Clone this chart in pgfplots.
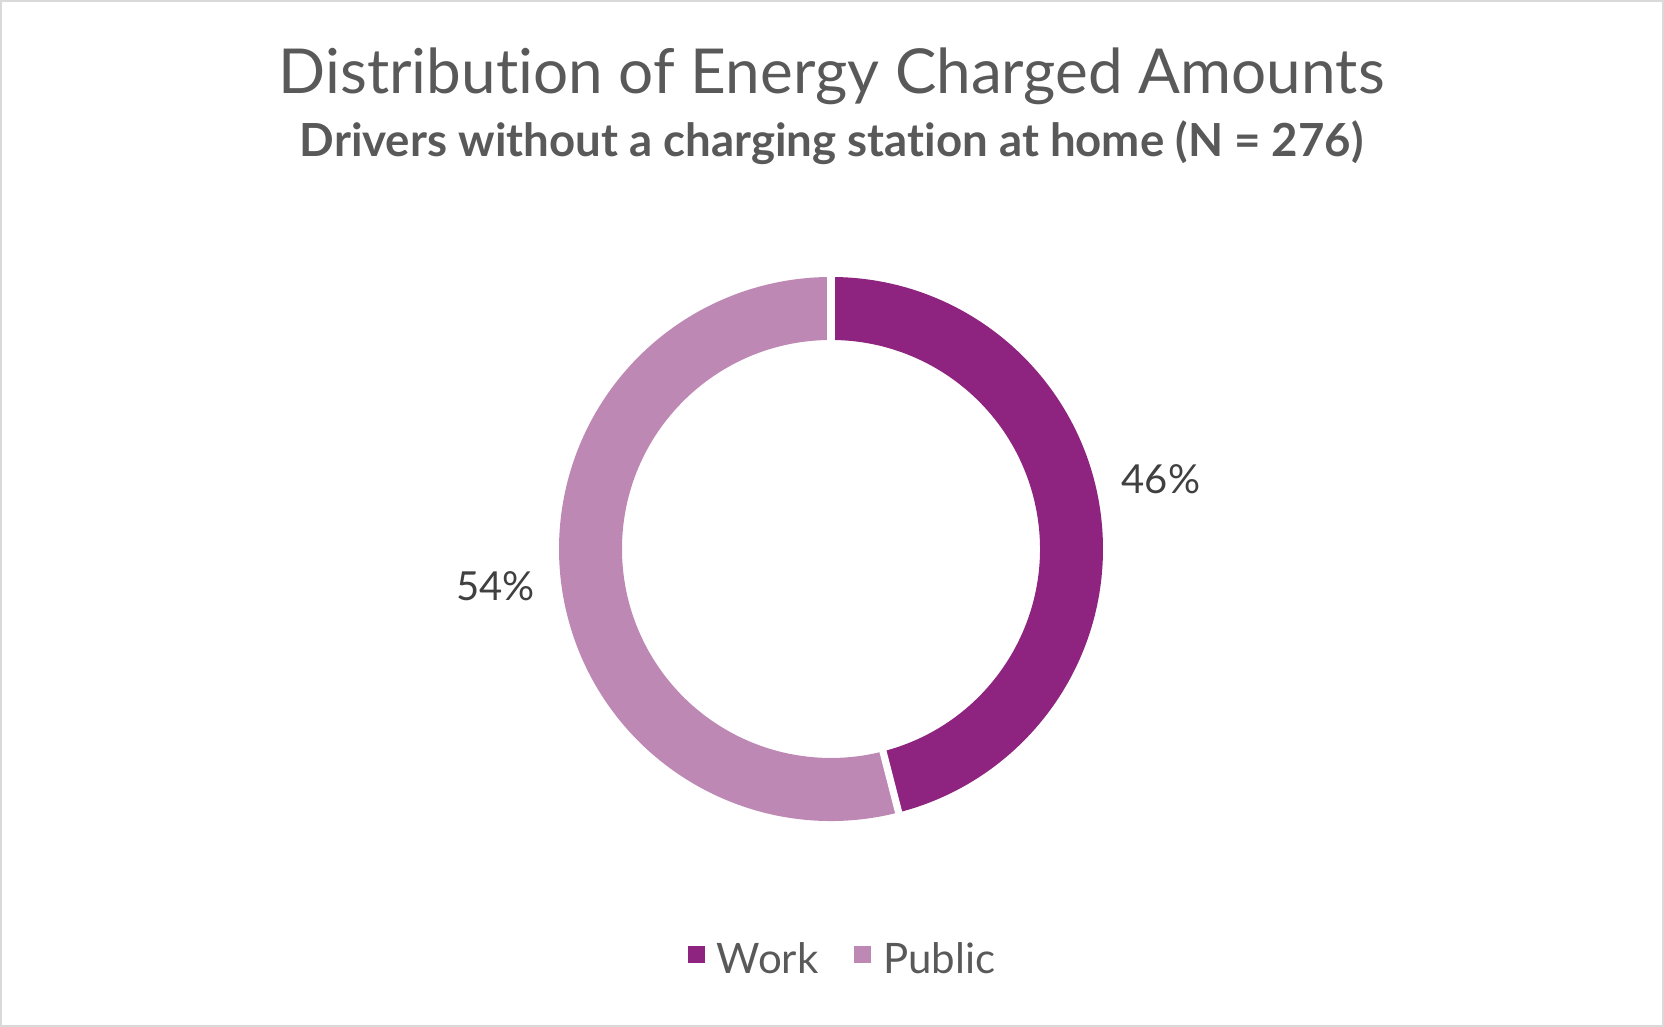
\documentclass[border=0pt]{standalone}
\usepackage{pgfplots}
\pgfplotsset{compat=1.18}
\usepackage{pgfplotstable}
\usepackage{fontspec}
\setmainfont{Lato}[Ligatures=NoCommon]
\definecolor{workc}{HTML}{8E247F}
\definecolor{pubc}{HTML}{BE88B4}
\definecolor{titlegray}{HTML}{595959}
\definecolor{labgray}{HTML}{404040}
\definecolor{framegray}{HTML}{D9D9D9}
\pgfplotstableread{
cat value
Work 46
Public 54
}\shares
\begin{document}
\begin{tikzpicture}[x=1pt,y=1pt]
\pgfplotstablegetelem{0}{value}\of\shares \let\workv\pgfplotsretval
\pgfplotstablegetelem{1}{value}\of\shares \let\pubv\pgfplotsretval
\pgfmathsetmacro\total{\workv+\pubv}
\pgfmathsetmacro\workend{90-\workv/\total*360}
\pgfmathsetmacro\pubend{\workend-\pubv/\total*360}
\useasboundingbox (0,0) rectangle (416,256.75);
\draw[framegray, line width=0.5pt] (0.25,0.25) rectangle (415.75,256.5);
\node[titlegray, font=\fontsize{15.5}{18}\selectfont] at (207.9,237.6) {Distribution of Energy Charged Amounts};
\node[titlegray, font=\fontsize{11.4}{13}\selectfont\bfseries] at (207.9,221.1) {Drivers without a charging station at home (N = 276)};
\begin{axis}[at={(207.75pt,119.5pt)}, anchor=center, scale only axis,
  width=136pt, height=136pt, xmin=-1, xmax=1, ymin=-1, ymax=1,
  hide axis, clip=false,
  legend columns=2,
  legend style={draw=none, fill=none, at={(0.527,-0.258)}, anchor=center,
    font=\fontsize{10.5}{12}\selectfont, text=titlegray,
    /tikz/every even column/.append style={column sep=7pt}},
]
\fill[workc] ([shift={(90:68pt)}]axis cs:0,0) arc[start angle=90, end angle=\workend, radius=68pt]
  -- ([shift={(\workend:52.25pt)}]axis cs:0,0) arc[start angle=\workend, end angle=90, radius=52.25pt] -- cycle;
\fill[pubc] ([shift={(\workend:68pt)}]axis cs:0,0) arc[start angle=\workend, end angle=\pubend, radius=68pt]
  -- ([shift={(\pubend:52.25pt)}]axis cs:0,0) arc[start angle=\pubend, end angle=\workend, radius=52.25pt] -- cycle;
\draw[white, line width=1.8pt] ([shift={(90:51pt)}]axis cs:0,0) -- ([shift={(90:69pt)}]axis cs:0,0);
\draw[white, line width=1.8pt] ([shift={(\workend:51pt)}]axis cs:0,0) -- ([shift={(\workend:69pt)}]axis cs:0,0);
\node[labgray, font=\fontsize{10}{12}\selectfont] at (axis cs:1.213,0.257) {\workv\%};
\node[labgray, font=\fontsize{10}{12}\selectfont] at (axis cs:-1.233,-0.136) {\pubv\%};
\addlegendimage{legend image code/.code={\fill[workc] (0pt,-0.1pt) rectangle (3.8pt,3.7pt);}}
\addlegendentry{\hspace{1pt}Work}
\addlegendimage{legend image code/.code={\fill[pubc] (0pt,-0.1pt) rectangle (3.8pt,3.7pt);}}
\addlegendentry{\hspace{1pt}Public}
\end{axis}
\end{tikzpicture}
\end{document}
